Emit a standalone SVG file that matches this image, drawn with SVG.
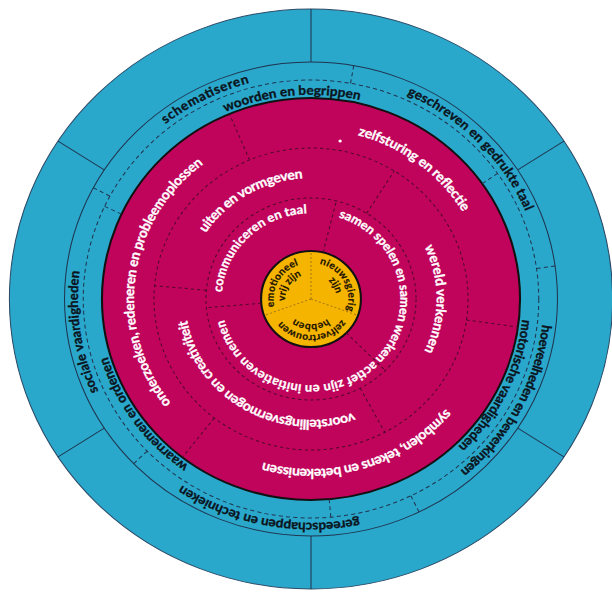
<svg xmlns="http://www.w3.org/2000/svg" width="612" height="592" viewBox="0 0 612 592">
<style>
.bt{font-family:Lato,"Open Sans","DejaVu Sans",sans-serif;font-weight:700;font-size:13px;fill:#0b141c;stroke:#0b141c;stroke-width:0.35}
.pt{font-family:Lato,"Open Sans","DejaVu Sans",sans-serif;font-weight:700;font-size:13.5px;fill:#ffffff;stroke:#ffffff;stroke-width:0.3}
.pt1{font-family:Lato,"Open Sans","DejaVu Sans",sans-serif;font-weight:700;font-size:12.5px;fill:#ffffff;stroke:#ffffff;stroke-width:0.3}
.yt{font-family:Lato,"Open Sans","DejaVu Sans",sans-serif;font-weight:700;font-size:10px;fill:#1a1200;stroke:#1a1200;stroke-width:0.2}
.sol{fill:none;stroke:#1f3550;stroke-width:1}
.dsh{fill:none;stroke:#1f3550;stroke-width:1;stroke-dasharray:4 3}
.pdsh{fill:none;stroke:#4e0a2a;stroke-width:1;stroke-dasharray:3 3}
.ydsh{fill:none;stroke:#a87a10;stroke-width:1;stroke-dasharray:2 2}
</style>
<defs>
<path id="p1" d="M -178.9 134.8 A 224 224 0 1 1 214.2 -65.5"/>
<path id="p2" d="M -182.1 -130.4 A 224 224 0 1 1 126.5 184.8"/>
<path id="p3" d="M 70.7 -212.6 A 224 224 0 1 1 -139.1 175.6"/>
<path id="p4" d="M 224.0 3.5 A 224 224 0 1 1 -209.3 -79.9"/>
<path id="p5" d="M 71.4 212.3 A 224 224 0 1 1 5.4 -223.9"/>
<path id="p6" d="M -196.7 53.8 A 204 204 0 1 1 203.3 16.7"/>
<path id="p7" d="M 56.2 -196.1 A 204 204 0 1 1 -119.9 165.0"/>
<path id="p8" d="M 145.8 142.7 A 204 204 0 1 1 -88.2 -184.0"/>
<path id="p9" d="M -151.1 -78.0 A 170 170 0 1 1 115.3 124.9"/>
<path id="p10" d="M 151.5 -77.2 A 170 170 0 1 1 -168.7 20.7"/>
<path id="p11" d="M 7.7 169.8 A 170 170 0 1 1 50.8 -162.2"/>
<path id="p12" d="M -92.3 78.3 A 121 121 0 1 1 113.5 -42.0"/>
<path id="p13" d="M -21.0 -119.2 A 121 121 0 1 1 -21.0 119.2"/>
<path id="p14" d="M 113.7 41.4 A 121 121 0 1 1 -92.7 -77.8"/>
<path id="p15" d="M -50.6 69.6 A 86 86 0 1 1 71.3 -48.1"/>
<path id="p16" d="M -35.0 -78.6 A 86 86 0 1 1 6.0 85.8"/>
<path id="p17" d="M 85.5 9.0 A 86 86 0 1 1 -77.3 -37.7"/>
<path id="p18" d="M -22.7 -28.0 A 36 36 0 1 1 11.7 34.0"/>
<path id="p19" d="M -16.1 -19.2 A 25 25 0 1 1 8.6 23.5"/>
<path id="p20" d="M -11.7 34.0 A 36 36 0 1 1 22.7 -28.0"/>
<path id="p21" d="M -9.4 23.2 A 25 25 0 1 1 16.7 -18.6"/>
<path id="p22" d="M 35.3 -7.2 A 36 36 0 1 1 -35.6 -5.3"/>
<path id="p23" d="M 24.6 -4.3 A 25 25 0 1 1 -24.6 -4.3"/>
</defs>
<g transform="translate(311,299) scale(1.04,1)">
<g id="outer-band">
<circle r="290" fill="#2aa8cc" stroke="#2b4a66" stroke-width="1"/>
<circle r="237" class="sol"/>
<g class="sol">
<line x1="0" y1="-237" x2="0" y2="-290"/>
<line x1="198.8" y1="-129.1" x2="243.2" y2="-157.9"/>
<line x1="198.8" y1="129.1" x2="243.2" y2="157.9"/>
<line x1="0" y1="237" x2="0" y2="290"/>
<line x1="-198.8" y1="129.1" x2="-243.2" y2="157.9"/>
<line x1="-198.8" y1="-129.1" x2="-243.2" y2="-157.9"/>
</g>
</g>
<g id="blue-band">
<circle r="219" class="dsh"/>
<g id="schematiseren"><text class="bt"><textPath href="#p1" startOffset="50%" text-anchor="middle" textLength="91">schematiseren</textPath></text></g>
<g id="geschreven"><text class="bt"><textPath href="#p2" startOffset="50%" text-anchor="middle" textLength="167">geschreven en gedrukte taal</textPath></text></g>
<g id="hoeveelheden"><text class="bt"><textPath href="#p3" startOffset="50%" text-anchor="middle" textLength="170">hoeveelheden en bewerkingen</textPath></text></g>
<g id="gereedschappen"><text class="bt"><textPath href="#p4" startOffset="50%" text-anchor="middle" textLength="178">gereedschappen en technieken</textPath></text></g>
<g id="sociale"><text class="bt"><textPath href="#p5" startOffset="50%" text-anchor="middle" textLength="123">sociale vaardigheden</textPath></text></g>
<g id="woorden"><text class="bt"><textPath href="#p6" startOffset="50%" text-anchor="middle" textLength="132">woorden en begrippen</textPath></text></g>
<g id="motorische"><text class="bt"><textPath href="#p7" startOffset="50%" text-anchor="middle" textLength="144">motorische vaardigheden</textPath></text></g>
<g id="waarnemen"><text class="bt"><textPath href="#p8" startOffset="50%" text-anchor="middle" textLength="136">waarnemen en ordenen</textPath></text></g>
</g>
<g id="pink-disc">
<circle r="201" fill="#c0035b" stroke="#111" stroke-width="2"/>
<circle r="151" class="pdsh"/>
<circle r="101" class="pdsh"/>
<circle cx="28" cy="-158" r="1.6" fill="#fff"/>
<g id="zelfsturing"><text class="pt"><textPath href="#p9" startOffset="50%" text-anchor="middle" textLength="130">zelfsturing en reflectie</textPath></text></g>
<g id="symbolen"><text class="pt"><textPath href="#p10" startOffset="50%" text-anchor="middle" textLength="194">symbolen, tekens en betekenissen</textPath></text></g>
<g id="onderzoeken"><text class="pt"><textPath href="#p11" startOffset="50%" text-anchor="middle" textLength="268">onderzoeken, redeneren en probleemoplossen</textPath></text></g>
<g id="uiten"><text class="pt"><textPath href="#p12" startOffset="50%" text-anchor="middle" textLength="112">uiten en vormgeven</textPath></text></g>
<g id="wereld"><text class="pt"><textPath href="#p13" startOffset="50%" text-anchor="middle" textLength="108">wereld verkennen</textPath></text></g>
<g id="voorstellingsvermogen"><text class="pt"><textPath href="#p14" startOffset="50%" text-anchor="middle" textLength="210">voorstellingsvermogen en creativiteit</textPath></text></g>
<g id="communiceren"><text class="pt1"><textPath href="#p15" startOffset="50%" text-anchor="middle" textLength="124">communiceren en taal</textPath></text></g>
<g id="samen"><text class="pt1"><textPath href="#p16" startOffset="50%" text-anchor="middle" textLength="174">samen spelen en samen werken</textPath></text></g>
<g id="actief"><text class="pt1"><textPath href="#p17" startOffset="50%" text-anchor="middle" textLength="180">actief zijn en initiatieven nemen</textPath></text></g>
</g>
<g id="core">
<circle r="48" fill="#f5b400" stroke="#111" stroke-width="2"/>
<g id="nieuwsgierig"><text class="yt"><textPath href="#p18" startOffset="50%" text-anchor="middle" textLength="60">nieuwsgierig</textPath></text><text class="yt"><textPath href="#p19" startOffset="50%" text-anchor="middle">zijn</textPath></text></g>
<g id="emotioneel"><text class="yt"><textPath href="#p20" startOffset="50%" text-anchor="middle" textLength="52">emotioneel</textPath></text><text class="yt"><textPath href="#p21" startOffset="50%" text-anchor="middle">vrij zijn</textPath></text></g>
<g id="zelfvertrouwen"><text class="yt"><textPath href="#p22" startOffset="50%" text-anchor="middle" textLength="67">zelfvertrouwen</textPath></text><text class="yt"><textPath href="#p23" startOffset="50%" text-anchor="middle">hebben</textPath></text></g>
</g>
<g id="connectors">
<g class="dsh">
<line x1="38.0" y1="-215.7" x2="41.1" y2="-233.4"/>
<line x1="216.9" y1="-30.5" x2="234.7" y2="-33.0"/>
<line x1="96.0" y1="196.8" x2="103.9" y2="213.0"/>
<line x1="-157.5" y1="152.1" x2="-170.5" y2="164.6"/>
<line x1="-193.4" y1="-102.8" x2="-209.3" y2="-111.3"/>
<line x1="17.5" y1="200.2" x2="19.1" y2="218.2"/>
<line x1="-182.2" y1="-84.9" x2="-198.5" y2="-92.6"/>
<line x1="164.7" y1="-115.3" x2="179.4" y2="-125.6"/>
</g>
<g class="pdsh">
<line x1="-59.0" y1="-139.0" x2="-78.5" y2="-185.0"/>
<line x1="149.5" y1="21.0" x2="199.0" y2="28.0"/>
<line x1="-93.0" y1="119.0" x2="-123.8" y2="158.4"/>
<line x1="53.5" y1="-85.6" x2="80.0" y2="-128.0"/>
<line x1="47.4" y1="89.2" x2="70.9" y2="133.3"/>
<line x1="-100.6" y1="-8.8" x2="-150.4" y2="-13.2"/>
<line x1="11.6" y1="-46.6" x2="24.4" y2="-98.0"/>
<line x1="33.9" y1="33.9" x2="71.4" y2="71.4"/>
<line x1="-47.8" y1="4.2" x2="-100.6" y2="8.8"/>
</g>
<g class="ydsh">
<line x1="0" y1="0" x2="0" y2="-47"/>
<line x1="0" y1="0" x2="44.2" y2="16.1"/>
<line x1="0" y1="0" x2="-44.2" y2="16.1"/>
</g>
</g>
</g>
</svg>
